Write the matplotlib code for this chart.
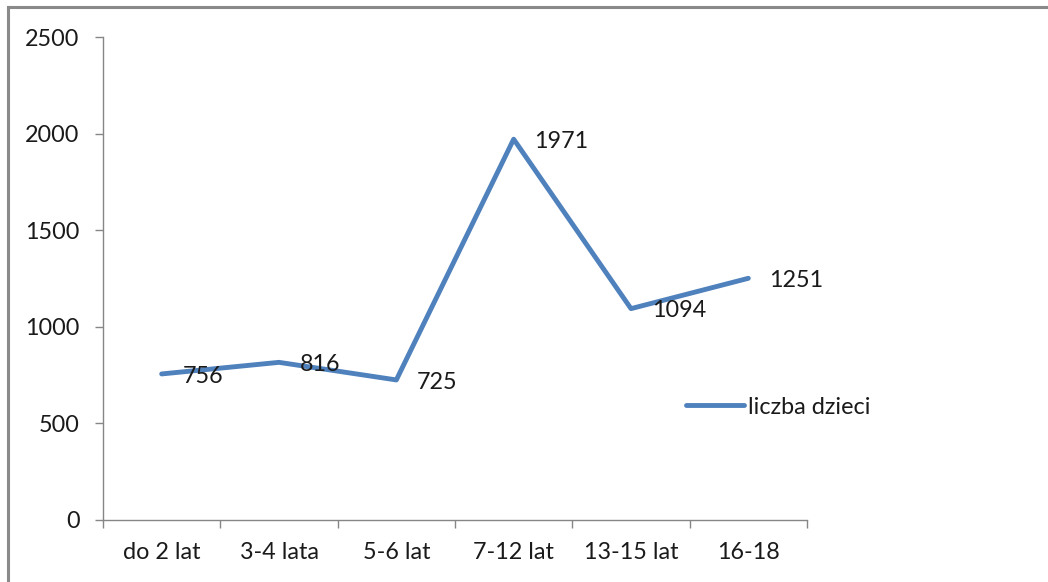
import matplotlib
matplotlib.use("Agg")
import matplotlib.pyplot as plt
from matplotlib.lines import Line2D

categories = ["do 2 lat", "3-4 lata", "5-6 lat", "7-12 lat", "13-15 lat", "16-18"]
values = [756, 816, 725, 1971, 1094, 1251]
yticks = [0, 500, 1000, 1500, 2000, 2500]
series_name = "liczba dzieci"

W, H = 1048, 582
fig = plt.figure(figsize=(W / 100, H / 100), dpi=100)
plt.rcParams['font.family'] = ['Lato', 'DejaVu Sans']
ax = fig.add_axes([103 / W, 1 - 520 / H, (807 - 103) / W, (520 - 37) / H])

line_color = "#4F81BD"
axis_color = "#868686"
text_color = "#1a1a1a"
fs = 16.8
lw = 3.5

x = list(range(len(categories)))
ax.plot(x, values, color=line_color, lw=lw, solid_capstyle='round',
        solid_joinstyle='round', label=series_name)
for xi, v in zip(x, values):
    ax.annotate(str(v), (xi, v), xytext=(15, -1.5), textcoords='offset points',
                ha='left', va='center', fontsize=fs, color=text_color)

ax.set_xlim(-0.5, len(categories) - 0.5)
ax.set_ylim(0, 2500)
ax.set_yticks(yticks)
ax.set_yticklabels([str(t) for t in yticks])
ax.set_xticks(x)
ax.set_xticklabels(categories)
ax.set_xticks([i - 0.5 for i in range(len(categories) + 1)], minor=True)

for s in ['top', 'right']:
    ax.spines[s].set_visible(False)
for s in ['left', 'bottom']:
    ax.spines[s].set_color(axis_color)
    ax.spines[s].set_linewidth(1.0)

ax.tick_params(axis='y', direction='out', length=6, width=1, color=axis_color,
               labelsize=fs, labelcolor=text_color, pad=11)
ax.tick_params(axis='x', which='major', length=0, labelsize=fs,
               labelcolor=text_color, pad=16)
ax.tick_params(axis='x', which='minor', direction='out', length=6, width=1,
               color=axis_color)

handle = Line2D([0], [0], color=line_color, lw=lw, solid_capstyle='round')
leg = fig.legend([handle], [series_name], loc='center left',
                 bbox_to_anchor=(665 / W, 1 - 407 / H), frameon=False,
                 fontsize=fs, handlelength=2.5, handletextpad=0.15,
                 labelcolor=text_color)

# outer border (cropped picture: only top and left edges visible)
fig.add_artist(Line2D([8 / W, 1], [1 - 7 / H, 1 - 7 / H], transform=fig.transFigure,
                      color="#8a8a8a", lw=2.2))
fig.add_artist(Line2D([8 / W, 8 / W], [0, 1 - 7 / H], transform=fig.transFigure,
                      color="#8a8a8a", lw=2.2))

fig.savefig("out.png", dpi=100, facecolor="white")
